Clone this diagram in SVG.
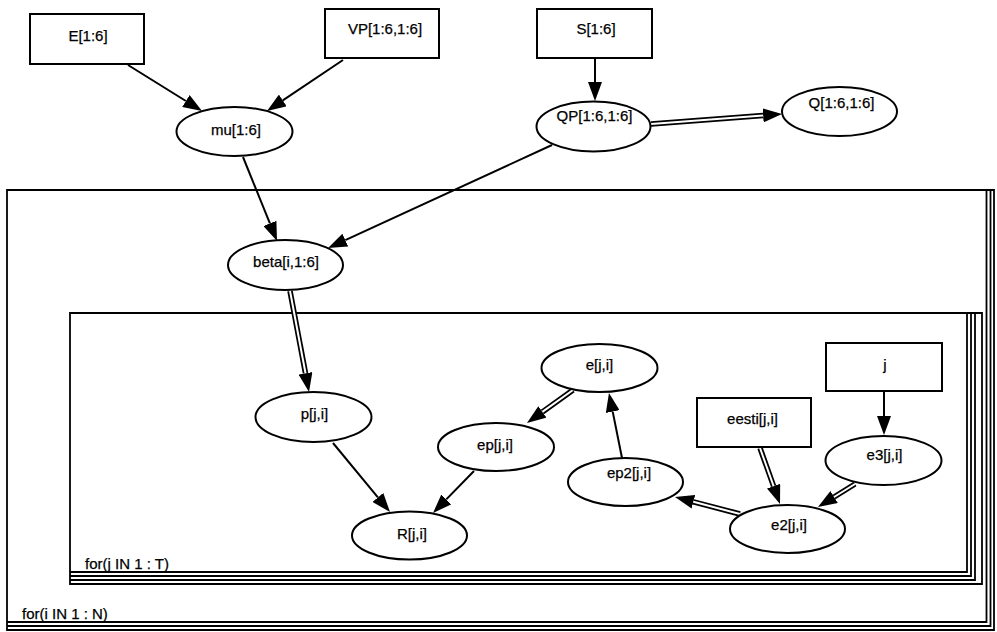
<svg xmlns="http://www.w3.org/2000/svg" width="997" height="632" viewBox="0 0 997 632">
  <style>
    .node { fill: #fff; stroke: #000; stroke-width: 2; }
    .lbl { font-family: "Liberation Sans", Arial, sans-serif; font-size: 15px; fill: #000; stroke: #000; stroke-width: 0.25; text-anchor: middle; }
    .plbl { font-family: "Liberation Sans", Arial, sans-serif; font-size: 15px; fill: #000; stroke: #000; stroke-width: 0.25; }
    .plate { fill: none; stroke: #000; stroke-width: 1.8; }
    .stoch { fill: none; stroke: #000; stroke-width: 2; }
    .logic { fill: none; stroke: #000; stroke-width: 5.5; }
    .logic-in { fill: none; stroke: #fff; stroke-width: 2; }
  </style>
  <defs>
    <marker id="head" markerUnits="userSpaceOnUse" markerWidth="19" markerHeight="14" refX="0" refY="7" orient="auto">
      <path d="M0,0 L19,7 L0,14 Z" fill="#000"/>
    </marker>
  </defs>
  <rect width="997" height="632" fill="#fff"/>

  <!-- plate: for(i IN 1 : N) -->
  <g id="plate-i">
    <path class="plate" d="M7,190 H994 V630 H7 Z"/>
    <path class="plate" d="M986.5,190 V622 H7"/>
    <path class="plate" d="M990.5,190 V626 H7"/>
    <text class="plbl" x="22" y="619">for(i IN 1 : N)</text>
  </g>

  <!-- plate: for(j IN 1 : T) -->
  <g id="plate-j">
    <path class="plate" d="M70,313 H982 V584 H70 Z"/>
    <path class="plate" d="M967,313 V572 H70"/>
    <path class="plate" d="M971,313 V576 H70"/>
    <path class="plate" d="M975,313 V580 H70"/>
    <text class="plbl" x="85" y="569">for(j IN 1 : T)</text>
  </g>

  <!-- connectors -->
  <g id="edges">
    <!-- stochastic (single line) -->
    <path class="stoch" d="M128,65 L185.9,101" marker-end="url(#head)"/>
    <path class="stoch" d="M343,60 L282.8,100.4" marker-end="url(#head)"/>
    <path class="stoch" d="M595,58 L595,82" marker-end="url(#head)"/>
    <path class="stoch" d="M243,157 L269.9,223.4" marker-end="url(#head)"/>
    <path class="stoch" d="M552,145 L345.3,240.1" marker-end="url(#head)"/>
    <path class="stoch" d="M333,443 L377.9,497.4" marker-end="url(#head)"/>
    <path class="stoch" d="M474,471 L446.3,499.4" marker-end="url(#head)"/>
    <path class="stoch" d="M622,458 L612.7,411.6" marker-end="url(#head)"/>
    <path class="stoch" d="M884,391 L884,416" marker-end="url(#head)"/>

    <!-- logical (double line) -->
    <path class="logic" d="M651,124 L763.1,115.4" marker-end="url(#head)"/>
    <path class="logic-in" d="M651,124 L763.1,115.4"/>
    <path class="logic" d="M290,291 L305.5,373.3" marker-end="url(#head)"/>
    <path class="logic-in" d="M290,291 L305.5,373.3"/>
    <path class="logic" d="M573,390 L542.4,411.9" marker-end="url(#head)"/>
    <path class="logic-in" d="M573,390 L542.4,411.9"/>
    <path class="logic" d="M740,514 L693.4,501.8" marker-end="url(#head)"/>
    <path class="logic-in" d="M740,514 L693.4,501.8"/>
    <path class="logic" d="M760,448 L773.6,486.1" marker-end="url(#head)"/>
    <path class="logic-in" d="M760,448 L773.6,486.1"/>
    <path class="logic" d="M855,484 L834.1,497" marker-end="url(#head)"/>
    <path class="logic-in" d="M855,484 L834.1,497"/>
  </g>

  <!-- constant nodes -->
  <g id="E">
    <rect class="node" x="30" y="14" width="114" height="50"/>
    <text class="lbl" x="88" y="41">E[1:6]</text>
  </g>
  <g id="VP">
    <rect class="node" x="325" y="9" width="114" height="49"/>
    <text class="lbl" x="385" y="34">VP[1:6,1:6]</text>
  </g>
  <g id="S">
    <rect class="node" x="537" y="9" width="115" height="49"/>
    <text class="lbl" x="596" y="34">S[1:6]</text>
  </g>
  <g id="eesti">
    <rect class="node" x="697" y="398" width="114" height="49"/>
    <text class="lbl" x="752.5" y="424">eesti[j,i]</text>
  </g>
  <g id="j">
    <rect class="node" x="826" y="343" width="116" height="48"/>
    <text class="lbl" x="885" y="370">j</text>
  </g>

  <!-- stochastic / logical nodes -->
  <g id="mu">
    <ellipse class="node" cx="234.5" cy="131.5" rx="58" ry="24.5"/>
    <text class="lbl" x="236" y="135">mu[1:6]</text>
  </g>
  <g id="QP">
    <ellipse class="node" cx="593.5" cy="126.5" rx="57" ry="25"/>
    <text class="lbl" x="594.5" y="121">QP[1:6,1:6]</text>
  </g>
  <g id="Q">
    <ellipse class="node" cx="839.5" cy="111.5" rx="57.5" ry="24.5"/>
    <text class="lbl" x="841.5" y="108">Q[1:6,1:6]</text>
  </g>
  <g id="beta">
    <ellipse class="node" cx="285.5" cy="265" rx="57.5" ry="25"/>
    <text class="lbl" x="286" y="267">beta[i,1:6]</text>
  </g>
  <g id="p">
    <ellipse class="node" cx="313.5" cy="417" rx="58" ry="25"/>
    <text class="lbl" x="314.5" y="419">p[j,i]</text>
  </g>
  <g id="R">
    <ellipse class="node" cx="409.5" cy="535.5" rx="57.5" ry="24"/>
    <text class="lbl" x="412" y="539">R[j,i]</text>
  </g>
  <g id="ep">
    <ellipse class="node" cx="496" cy="447" rx="58" ry="24"/>
    <text class="lbl" x="495" y="450">ep[j,i]</text>
  </g>
  <g id="e">
    <ellipse class="node" cx="599.5" cy="368" rx="58" ry="24"/>
    <text class="lbl" x="599.5" y="370">e[j,i]</text>
  </g>
  <g id="ep2">
    <ellipse class="node" cx="625.5" cy="482" rx="57.5" ry="24"/>
    <text class="lbl" x="629" y="478">ep2[j,i]</text>
  </g>
  <g id="e3">
    <ellipse class="node" cx="883.5" cy="460.5" rx="58" ry="24.5"/>
    <text class="lbl" x="884.5" y="460">e3[j,i]</text>
  </g>
  <g id="e2">
    <ellipse class="node" cx="787.5" cy="529" rx="57.5" ry="24"/>
    <text class="lbl" x="789" y="530">e2[j,i]</text>
  </g>
</svg>
